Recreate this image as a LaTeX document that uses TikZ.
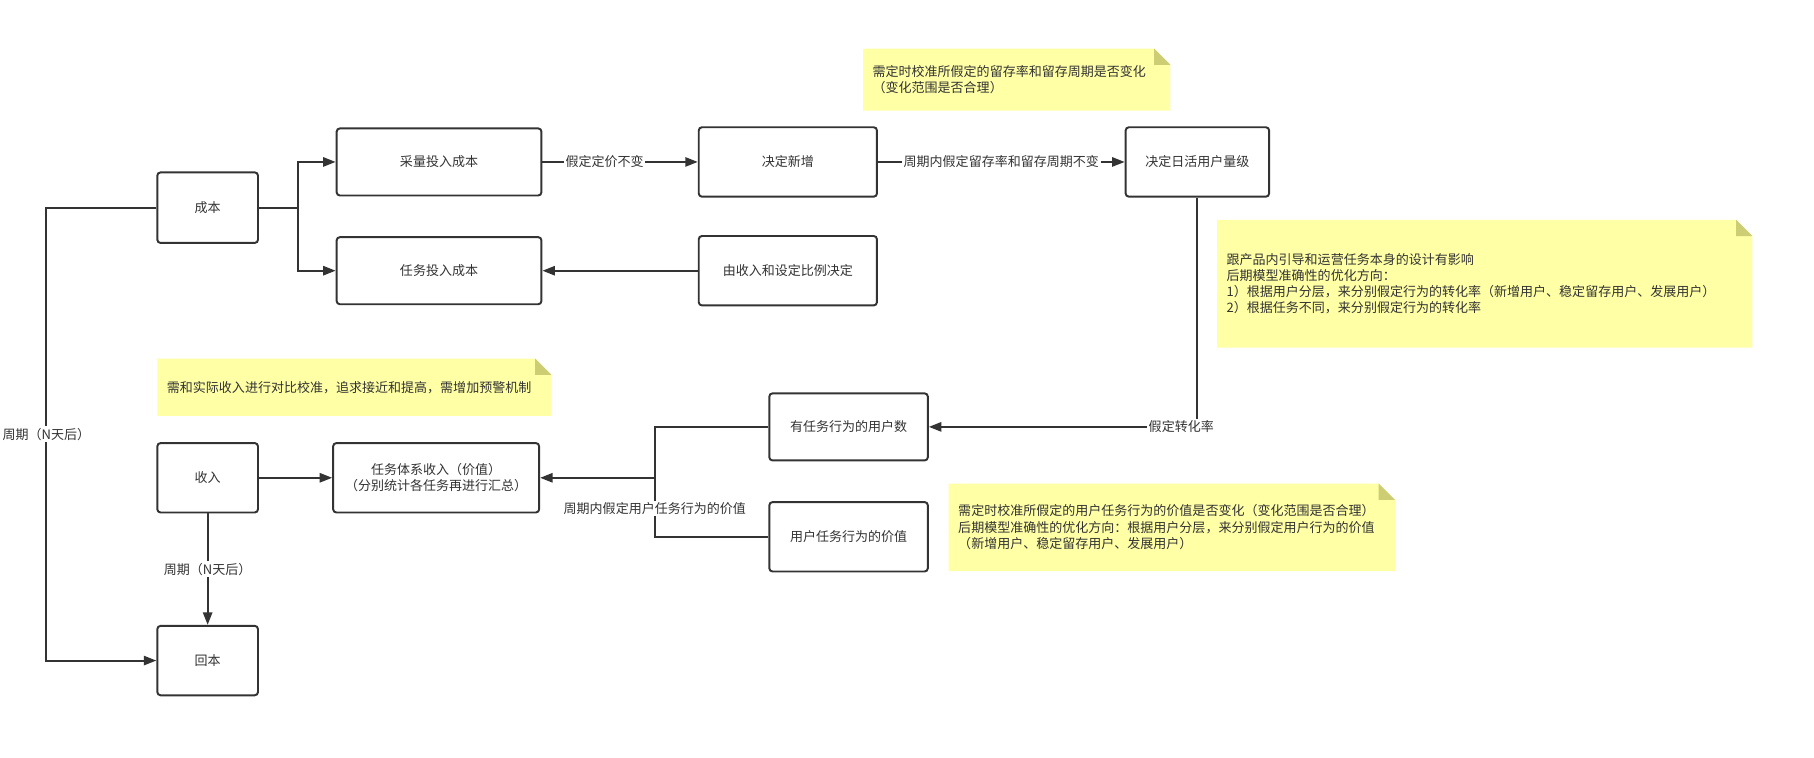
\documentclass[tikz,border=0pt]{standalone}
\usepackage{fontspec}
\newfontfamily\cjk{Noto Sans CJK SC}
\usepackage{tikz}
\usetikzlibrary{arrows.meta,positioning,calc,backgrounds}
\definecolor{linegray}{HTML}{333333}
\definecolor{notefill}{HTML}{FFFFA6}
\definecolor{notefold}{HTML}{CDCD73}

\tikzset{
  box/.style={draw=linegray, line width=1.2pt, fill=white, rounded corners=2pt, inner sep=0pt, align=center},
  flow/.style={draw=linegray, line width=1.2pt, -{Triangle[length=0.27cm,width=0.2cm]}},
  wire/.style={draw=linegray, line width=1.2pt},
  lbl/.style={fill=white, inner sep=1pt},
  note/.style={anchor=north west, inner xsep=0.2cm, inner ysep=0pt, align=left},
}

\begin{document}
\begin{tikzpicture}[x=0.025cm, y=-0.025cm, every node/.style={font=\cjk\fontsize{8}{10}\selectfont, text=linegray}]
        \useasboundingbox (0,0) rectangle (1568,655);

        % cost side
        \node[box, minimum width=2.175cm, minimum height=1.525cm] (cost) at (179.5,179.5) {成本};
        \node[box, minimum width=4.425cm, minimum height=1.45cm] (buy) at (379.5,140) {采量投入成本};
        \node[box, minimum width=4.425cm, minimum height=1.45cm] (taskcost) at (379.5,234) {任务投入成本};
        \node[box, minimum width=3.85cm, minimum height=1.5cm] (newusr) at (681,140) {决定新增};
        \node[box, minimum width=3.85cm, minimum height=1.5cm] (ratio) at (681,234) {由收入和设定比例决定};
        \node[box, minimum width=3.1cm, minimum height=1.5cm] (dau) at (1035,140) {决定日活用户量级};

        % income side
        \node[box, minimum width=3.425cm, minimum height=1.45cm] (actusr) at (733.5,369) {有任务行为的用户数};
        \node[box, minimum width=3.425cm, minimum height=1.5cm] (actval) at (733.5,464) {用户任务行为的价值};
        \node[box, minimum width=2.175cm, minimum height=1.5cm] (income) at (179.5,413) {收入};
        \node[box, minimum width=4.45cm, minimum height=1.5cm] (taskinc) at (377,413) {任务体系收入（价值）\\（分别统计各任务再进行汇总）};
        \node[box, minimum width=2.175cm, minimum height=1.5cm] (payback) at (179.5,571) {回本};

        % notes
        \node[note, text width=6.225cm, minimum height=1.325cm] (noteretain) at (746,42) {需定时校准所假定的留存率和留存周期是否变化\\（变化范围是否合理）};
        \node[note, text width=11.15cm, minimum height=2.75cm] (noteconv) at (1052,190) {跟产品内引导和运营任务本身的设计有影响\\后期模型准确性的优化方向：\\1）根据用户分层，来分别假定行为的转化率（新增用户、稳定留存用户、发展用户）\\2）根据任务不同，来分别假定行为的转化率};
        \node[note, text width=8.1cm, minimum height=1.225cm] (noteincome) at (136,310) {需和实际收入进行对比校准，追求接近和提高，需增加预警机制};
        \node[note, text width=9.225cm, minimum height=1.875cm] (notevalue) at (820,418) {需定时校准所假定的用户任务行为的价值是否变化（变化范围是否合理）\\后期模型准确性的优化方向：根据用户分层，来分别假定用户行为的价值\\（新增用户、稳定留存用户、发展用户）};

        \begin{scope}[on background layer]
            \foreach \n in {noteretain,noteconv,noteincome,notevalue} {
                \fill[notefill] (\n.south west) -- (\n.north west) -- ($(\n.north east)+(-14,0)$) -- ($(\n.north east)+(0,14)$) -- (\n.south east) -- cycle;
                \fill[notefold] ($(\n.north east)+(-14,0)$) -- ($(\n.north east)+(-14,14)$) -- ($(\n.north east)+(0,14)$) -- cycle;
            }
        \end{scope}

        \draw[flow] (cost.east) -- ++(34,0) |- (buy.west);
        \draw[flow] (cost.east) -- ++(34,0) |- (taskcost.west);
        \draw[flow] (buy) -- node[lbl, pos=0.4] {假定定价不变} (newusr);
        \draw[flow] (newusr) -- node[lbl] {周期内假定留存率和留存周期不变} (dau);
        \draw[flow] (ratio) -- (taskcost);
        \draw[flow] (dau.south) |- node[lbl, pos=0.53] {假定转化率} (actusr.east);

        \coordinate (merge) at (566,413);
        \draw[wire] (actusr.west) -| (merge);
        \draw[wire] (actval.west) -| node[lbl, pos=0.74] {周期内假定用户任务行为的价值} (merge);
        \draw[flow] (merge) -- (taskinc.east);
        \draw[flow] (income) -- (taskinc);
        \draw[flow] (income) -- node[lbl] {周期（N天后）} (payback);
        \draw[flow] (cost.west) -- ++(-95,0) |- node[lbl, pos=0.25] {周期（N天后）} (payback.west);
    \end{tikzpicture}
\end{document}
